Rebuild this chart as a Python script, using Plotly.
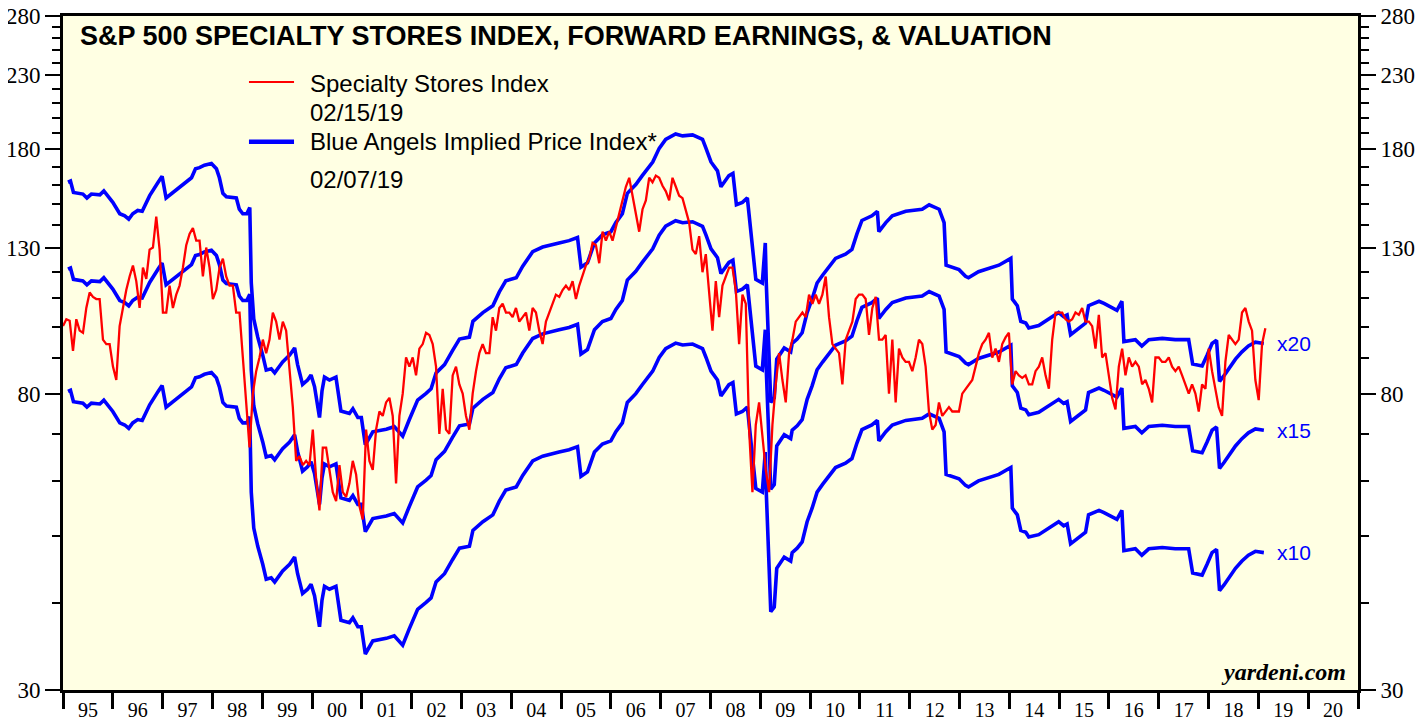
import numpy as np
import plotly.graph_objects as go

# ---------------- data ----------------
red_start_year = 1995.0      # 1st observation
red_end_year = 2019.14       # 02/15/19

specialty_index = [
    # 1995 - 1998
    100.2, 102.5, 102.0, 92.3, 102.5, 98.7, 98.0, 106.4, 112.0, 110.4,
    109.6, 109.6, 95.8, 94.4, 94.4, 87.6, 83.8, 100.2, 106.4, 112.9,
    118.1, 122.5, 116.3, 106.4, 121.6, 117.2, 129.1, 130.0, 144.0, 129.1,
    104.8, 104.8, 114.6, 106.4, 111.2, 114.6, 121.6, 131.0, 136.0, 138.7,
    133.0, 133.0, 118.1, 130.0, 121.6, 109.6, 112.9, 121.6, 125.3, 118.1,
    114.6, 114.6, 104.8, 104.8, 90.3, 76.6, 67.0, 80.1, 86.3, 90.3,
    95.8, 91.6, 95.8, 104.8, 101.7, 95.8, 101.7, 98.7, 86.3, 76.6,
    64.1, 65.1, 63.2, 64.1, 63.2, 71.1, 60.4, 54.4, 67.0, 67.0,
    # 2000 - 2006
    62.2, 57.8, 56.1, 63.2, 57.8, 56.9, 59.5, 64.1, 61.3, 55.2,
    52.8, 71.1, 64.1, 62.2, 71.1, 75.5, 74.4, 77.8, 79.0, 74.4,
    59.5, 74.4, 80.1, 90.3, 87.6, 90.3, 85.1, 93.0, 94.4, 98.0,
    97.3, 94.4, 87.6, 70.1, 81.4, 71.1, 70.1, 85.1, 87.6, 82.6,
    80.1, 74.4, 71.1, 80.1, 86.3, 91.6, 94.4, 91.6, 91.6, 103.2,
    98.7, 106.4, 107.9, 104.8, 104.8, 103.2, 106.4, 101.7, 103.2, 104.8,
    98.7, 106.4, 104.8, 98.7, 94.4, 101.7, 104.8, 107.9, 111.2, 110.4,
    112.9, 114.6, 112.9, 116.3, 109.6, 114.6, 118.1, 122.5, 125.3, 132.0,
    131.0, 123.4, 137.0, 133.0, 137.0, 133.0, 139.1, 145.4, 152.0, 159.0,
    163.8, 154.3, 145.4, 137.0, 147.6, 152.0, 163.8, 161.4, 165.0, 163.8,
    # 2007 - 2013
    159.5, 156.6, 152.0, 163.8, 159.0, 154.3, 153.1, 147.6, 141.2, 129.1,
    127.2, 135.0, 119.8, 127.2, 112.9, 98.7, 116.3, 103.2, 114.6, 118.1,
    121.6, 121.6, 112.9, 94.4, 111.2, 107.9, 71.1, 57.8, 72.2, 77.8,
    69.1, 62.2, 57.8, 72.2, 82.6, 91.6, 83.8, 77.8, 91.6, 95.8,
    101.7, 103.2, 104.8, 103.2, 111.2, 107.9, 111.2, 107.9, 111.2, 118.1,
    103.2, 94.4, 93.0, 91.6, 82.6, 95.8, 98.7, 101.7, 109.6, 111.2,
    111.2, 109.6, 97.3, 106.4, 110.4, 95.8, 95.8, 97.3, 80.1, 95.8,
    77.8, 93.0, 90.3, 89.0, 89.0, 86.3, 90.3, 95.8, 94.4, 87.6,
    75.5, 71.1, 72.2, 77.8, 74.4, 75.5, 76.6, 75.5, 75.5, 75.5,
    80.1, 81.4, 82.6, 83.8, 87.6, 91.6, 94.4, 95.8, 98.0,
    # 2013 - 2019
    90.3, 93.0, 89.0, 94.4, 96.5, 98.0, 82.6, 86.3, 85.1, 84.4,
    85.1, 82.6, 82.6, 86.3, 87.6, 90.3, 85.1, 81.4, 95.8, 104.8,
    104.8, 104.8, 102.5, 101.7, 102.5, 104.8, 104.0, 106.4, 101.7, 101.7,
    100.2, 93.0, 104.0, 90.3, 91.6, 85.1, 79.0, 76.0, 87.6, 93.0,
    85.1, 90.3, 87.6, 89.0, 87.6, 82.6, 83.8, 81.4, 77.8, 90.3,
    90.3, 89.0, 89.0, 90.3, 87.6, 86.3, 87.6, 85.1, 82.6, 80.1,
    82.6, 80.1, 75.5, 82.6, 81.4, 93.0, 86.3, 81.4, 76.6, 74.4,
    89.0, 97.3, 95.8, 94.4, 95.8, 104.8, 106.4, 101.7, 98.7, 83.8,
    78.4, 94.4, 99.5,
]

eps_years = [
    1995.10, 1995.15, 1995.21, 1995.40, 1995.48, 1995.57, 1995.74, 1995.82,
    1996.00, 1996.14, 1996.24, 1996.32, 1996.40, 1996.50, 1996.59, 1996.74, 1996.91, 1996.99,
    1997.07, 1997.21, 1997.41, 1997.58, 1997.66, 1997.74, 1997.84, 1997.98,
    1998.08, 1998.14, 1998.21, 1998.28, 1998.48, 1998.54, 1998.61, 1998.69, 1998.75, 1998.78, 1998.83, 1998.91,
    1999.01, 1999.08, 1999.18, 1999.25, 1999.35, 1999.41, 1999.55, 1999.65, 1999.71, 1999.81, 1999.91, 1999.98,
    2000.05, 2000.15, 2000.20, 2000.25, 2000.35, 2000.48, 2000.58, 2000.75, 2000.82, 2000.92, 2000.99,
    2001.07, 2001.22, 2001.49, 2001.65, 2001.82, 2001.95,
    2002.12, 2002.29, 2002.39, 2002.49, 2002.66, 2002.82, 2002.96,
    2003.16, 2003.23, 2003.43, 2003.63, 2003.76, 2003.89,
    2004.10, 2004.23, 2004.43, 2004.63, 2004.96,
    2005.16, 2005.33, 2005.40, 2005.53, 2005.67, 2005.83,
    2006.00, 2006.10, 2006.23, 2006.33, 2006.50, 2006.63, 2006.84, 2006.97,
    2007.10, 2007.30, 2007.44, 2007.64, 2007.84, 2007.91,
    2008.01, 2008.14, 2008.21, 2008.37, 2008.45, 2008.52, 2008.64, 2008.74, 2008.81, 2008.91,
    2009.04, 2009.10, 2009.12, 2009.21, 2009.28, 2009.33, 2009.48, 2009.61, 2009.64, 2009.74, 2009.84, 2009.94,
    2010.04, 2010.14, 2010.25, 2010.38, 2010.51, 2010.71, 2010.84, 2010.94,
    2011.04, 2011.24, 2011.35, 2011.38, 2011.52, 2011.65, 2011.92,
    2012.25, 2012.39, 2012.59, 2012.69, 2012.73, 2012.85, 2012.99,
    2013.12, 2013.18, 2013.38, 2013.58, 2013.79,
    2014.03, 2014.06, 2014.16, 2014.23, 2014.33, 2014.39, 2014.59, 2014.79, 2014.92, 2014.99,
    2015.09, 2015.16, 2015.23, 2015.39, 2015.53, 2015.59, 2015.80, 2015.90,
    2016.06, 2016.16, 2016.26, 2016.30, 2016.53, 2016.66, 2016.80,
    2017.07, 2017.33, 2017.60, 2017.68, 2017.87, 2017.97,
    2018.07, 2018.16, 2018.22, 2018.31, 2018.40, 2018.54, 2018.67, 2018.80, 2018.94,
    2019.11,
]

forward_eps = [
    8.07, 8.10, 7.80, 7.76, 7.66, 7.76, 7.74, 7.84,
    7.55, 7.27, 7.22, 7.14, 7.27, 7.35, 7.33, 7.72, 8.07, 8.23,
    7.66, 7.80, 8.01, 8.19, 8.44, 8.47, 8.54, 8.59,
    8.44, 8.19, 7.78, 7.69, 7.66, 7.38, 7.27, 7.27, 7.42, 5.78, 5.13, 4.83,
    4.55, 4.33, 4.35, 4.29, 4.39, 4.45, 4.55, 4.66, 4.41, 4.13, 4.19, 4.26,
    4.10, 3.70, 4.04, 4.23, 4.19, 4.23, 3.78, 3.75, 3.81, 3.70, 3.70,
    3.38, 3.53, 3.56, 3.59, 3.48, 3.67,
    3.92, 4.01, 4.07, 4.29, 4.41, 4.62, 4.80,
    4.83, 5.09, 5.24, 5.36, 5.61, 5.82,
    5.88, 6.11, 6.41, 6.51, 6.60,
    6.65, 6.72, 6.09, 6.18, 6.60, 6.78,
    6.85, 7.06, 7.27, 7.78, 8.01, 8.25, 8.63, 9.03,
    9.30, 9.47, 9.41, 9.44, 9.30, 9.03,
    8.63, 8.38, 7.95, 8.25, 8.31, 7.49, 7.55, 7.66, 6.80, 5.85,
    5.78, 6.60, 5.78, 3.89, 3.95, 4.49, 4.66, 4.60, 4.73, 4.80, 4.90, 5.24,
    5.48, 5.78, 5.93, 6.09, 6.27, 6.36, 6.46, 6.80,
    7.11, 7.22, 7.33, 6.85, 7.06, 7.22, 7.33,
    7.38, 7.49, 7.38, 7.06, 6.13, 6.09, 6.04,
    5.91, 5.88, 6.00, 6.06, 6.13,
    6.27, 5.48, 5.36, 5.09, 5.06, 4.98, 5.02, 5.13, 5.20, 5.24,
    5.17, 5.20, 4.87, 4.98, 5.06, 5.36, 5.44, 5.40,
    5.32, 5.28, 5.44, 4.76, 4.79, 4.69, 4.79,
    4.81, 4.79, 4.79, 4.42, 4.39, 4.55,
    4.73, 4.78, 4.17, 4.25, 4.35, 4.49, 4.60, 4.69, 4.75,
    4.73,
]

pe_multiples = [20, 15, 10]
multiple_labels = ["x20", "x15", "x10"]

year_ticks = list(range(1995, 2022))
year_labels = ["95", "96", "97", "98", "99", "00", "01", "02", "03", "04", "05",
               "06", "07", "08", "09", "10", "11", "12", "13", "14", "15", "16",
               "17", "18", "19", "20"]

y_major = [30, 80, 130, 180, 230, 280]
y_minor = [40, 50, 60, 70, 90, 100, 110, 120, 140, 150, 160, 170,
           190, 200, 210, 220, 240, 250, 260, 270]

# ---------------- figure ----------------
red_years = np.linspace(red_start_year, red_end_year, len(specialty_index))
n = min(len(eps_years), len(forward_eps))
eps_x = eps_years[:n]
eps_y = forward_eps[:n]

BLUE = "#0000FF"
RED = "#FF0000"
SERIF = "Liberation Serif"
SANS = "Liberation Sans"

fig = go.Figure()
for m in pe_multiples:
    fig.add_trace(go.Scatter(
        x=eps_x, y=[e * m for e in eps_y], mode="lines",
        line=dict(color=BLUE, width=3.6), showlegend=False, hoverinfo="skip"))

fig.add_trace(go.Scatter(
    x=red_years, y=specialty_index, mode="lines",
    line=dict(color=RED, width=2.3), showlegend=False))

# invisible trace for right axis
fig.add_trace(go.Scatter(x=[2000], y=[100], yaxis="y2", mode="markers",
                         marker=dict(opacity=0), showlegend=False, hoverinfo="skip"))

ylog = [np.log10(30), np.log10(280)]
yaxis_common = dict(
    type="log", range=ylog, tickmode="array", tickvals=y_major,
    ticktext=[str(v) for v in y_major], ticks="outside", ticklen=15, tickwidth=2,
    tickcolor="black", showgrid=False, zeroline=False, showline=True,
    linecolor="black", linewidth=3, automargin=False, ticklabeloverflow="allow",
    tickfont=dict(family=SERIF, size=23, color="black"),
    minor=dict(tickmode="array", tickvals=y_minor, ticks="outside",
               ticklen=8, tickwidth=2, tickcolor="black", showgrid=False),
)

# the page places the figure 8px from the window's top-left corner
fig.update_layout(
    width=1419, height=709,
    margin=dict(l=55, r=69, t=8, b=27, autoexpand=False),
    paper_bgcolor="white", plot_bgcolor="#FFFFE3",
    showlegend=False,
    xaxis=dict(
        range=[1995, 2021], tickmode="array",
        tickvals=[y + 0.5 for y in year_ticks[:-1]], ticktext=year_labels,
        ticks="", ticklabeloverflow="allow",
        tickfont=dict(family=SERIF, size=20, color="black"),
        showgrid=False, zeroline=False, showline=True, mirror=True,
        linecolor="black", linewidth=3, automargin=False,
        minor=dict(tickmode="array", tickvals=year_ticks, ticks="outside",
                   ticklen=16, tickwidth=3, tickcolor="black", showgrid=False),
    ),
    yaxis=dict(side="left", **yaxis_common),
    yaxis2=dict(side="right", overlaying="y", **yaxis_common),
)

# title
fig.add_annotation(xref="paper", yref="paper", x=0.0116, y=0.9703,
                   xanchor="left", yanchor="middle", showarrow=False,
                   text="<b>S&amp;P 500 SPECIALTY STORES INDEX, FORWARD EARNINGS, &amp; VALUATION</b>",
                   font=dict(family=SANS, size=27, color="black"))

# legend (manual)
leg_x0, leg_x1, leg_tx = 0.1436, 0.1784, 0.1892
fig.add_shape(type="line", xref="paper", yref="paper", x0=leg_x0, x1=leg_x1,
              y0=0.9021, y1=0.9021, line=dict(color=RED, width=2))
fig.add_shape(type="line", xref="paper", yref="paper", x0=leg_x0, x1=leg_x1,
              y0=0.8135, y1=0.8135, line=dict(color=BLUE, width=4.5))
legend_texts = [("Specialty Stores Index", 0.9001), ("02/15/19", 0.8561),
                ("Blue Angels Implied Price Index*", 0.8135), ("02/07/19", 0.7567)]
for txt, yy in legend_texts:
    fig.add_annotation(xref="paper", yref="paper", x=leg_tx, y=yy,
                       xanchor="left", yanchor="middle", showarrow=False,
                       text=txt, font=dict(family=SANS, size=24, color="black"))

# multiple labels at the end of the blue lines
for m, lab in zip(pe_multiples, multiple_labels):
    fig.add_annotation(xref="x", yref="y", x=eps_x[-1] + 0.22,
                       y=np.log10(eps_y[-1] * m), xanchor="left", yanchor="middle",
                       showarrow=False, text=lab,
                       font=dict(family=SANS, size=21, color=BLUE))

# source
fig.add_annotation(xref="paper", yref="paper", x=0.9923, y=0.026,
                   xanchor="right", yanchor="middle", showarrow=False,
                   text="<b><i>yardeni.com</i></b>",
                   font=dict(family=SERIF, size=24, color="black"))

fig.write_html("out.html")
